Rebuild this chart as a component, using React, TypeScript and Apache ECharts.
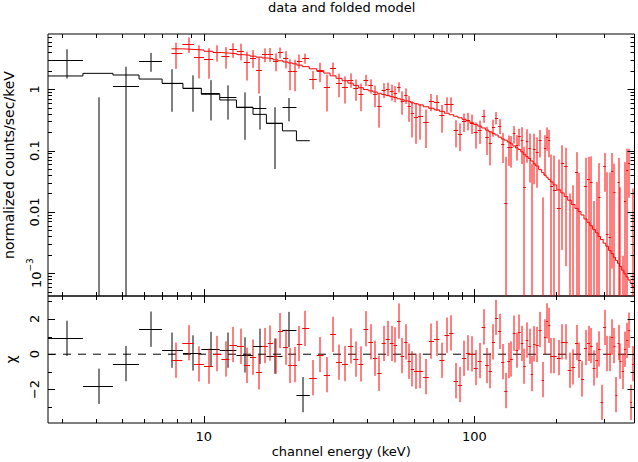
import React, { useEffect, useRef } from 'react';
import * as echarts from 'echarts';

const FONT = 'DejaVu Sans';

// axis ranges (keV, counts/sec/keV, chi)
const XMIN = 2.66, XMAX = 390;
const YMIN = 4.25e-4, YMAX = 7.98;
const RMIN = -3.9, RMAX = 3.3;

// black spectrum (low-energy instrument)
const blackEdges = [2.6, 3.58, 4.62, 5.77, 7.02, 8.38, 9.8, 11.46, 13.21, 15.21, 17.04, 19.53, 22.0, 24.64];
const blackCenter = [3.13, 4.1, 5.16, 6.41, 7.66, 9.13, 10.68, 12.3, 14.17, 16.1, 18.3, 20.66, 23.27];
const blackFlux = [3.0, -0.53, 1.13, 2.93, 1.28, 1.06, 0.86, 0.74, 0.52, 0.5, 0.28, 0.51, -0.15];
const blackErr = [1.5, 1.27, 1.2, 1.0, 0.85, 0.63, 0.55, 0.42, 0.37, 0.28, 0.23, 0.21, 0.13];
const blackModel = [1.65, 1.82, 1.71, 1.47, 1.25, 1.04, 0.83, 0.67, 0.51, 0.39, 0.28, 0.21, 0.145];
const blackChi = [0.9, -1.82, -0.53, 1.42, 0.23, 0.07, 0.27, 0.23, -0.04, 0.45, -0.11, 1.4, -2.29];

// red spectrum (high-energy instrument)
const redFirstLow = 7.6;
const redLastHigh = 390;
const redCenter = [
  7.88, 8.82, 9.61, 10.46, 11.2, 12.06, 12.83, 13.7, 14.45, 15.21,
  16.01, 16.84, 17.64, 18.45, 19.2, 20.09, 20.91, 21.69, 22.5, 23.75,
  25.33, 26.98, 28.54, 30.04, 31.61, 33.27, 34.91, 36.43, 38.11, 39.67,
  41.39, 42.93, 44.57, 46.23, 47.83, 49.49, 51.08, 52.53, 54.2, 55.89,
  57.33, 59.02, 60.7, 63.17, 66.25, 69.36, 72.56, 75.91, 79.02, 82.22,
  85.29, 88.47, 91.54, 94.71, 97.72, 101.1, 104.6, 108.0, 111.3, 114.6,
  117.5, 120.6, 124.0, 127.2, 130.5, 133.9, 137.0, 140.1, 143.3, 146.6,
  149.9, 153.0, 156.4, 159.7, 162.8, 166.6, 169.9, 175.3, 178.8, 182.3,
  185.5, 188.6, 192.5, 197.5, 205.4, 211.4, 217.5, 224.4, 231.4, 238.8,
  244.3, 250.6, 257.1, 263.8, 269.6, 276.6, 283.0, 289.1, 295.3, 302.2,
  308.9, 316.9, 322.3, 329.0, 334.6, 340.4, 346.2, 353.0, 360.0, 366.2,
  372.5, 378.9, 385.4,
];
const redModel = [
  4.57, 4.47, 4.37, 4.17, 3.98, 3.89, 3.8, 3.67, 3.59, 3.47,
  3.35, 3.24, 3.16, 3.02, 2.92, 2.79, 2.69, 2.6, 2.48, 2.34,
  2.16, 2.02, 1.84, 1.66, 1.51, 1.38, 1.26, 1.16, 1.06, 0.989,
  0.944, 0.902, 0.861, 0.822, 0.794, 0.759, 0.733, 0.7, 0.676, 0.646,
  0.631, 0.603, 0.582, 0.556, 0.519, 0.49, 0.462, 0.437, 0.407, 0.385,
  0.363, 0.343, 0.324, 0.305, 0.285, 0.266, 0.251, 0.234, 0.216, 0.202,
  0.191, 0.18, 0.166, 0.155, 0.148, 0.138, 0.129, 0.119, 0.111, 0.104,
  0.0955, 0.0871, 0.0794, 0.0741, 0.0676, 0.061, 0.0562, 0.049, 0.0437, 0.0398,
  0.0367, 0.0339, 0.0309, 0.0275, 0.0229, 0.0204, 0.0178, 0.0155, 0.0132, 0.0114,
  0.0101, 0.00891, 0.00767, 0.00676, 0.00596, 0.00519, 0.00457, 0.00398, 0.00355, 0.00309,
  0.00275, 0.00234, 0.00209, 0.00182, 0.00162, 0.00145, 0.00129, 0.00112, 0.000977, 0.000871,
  0.000776, 0.000692, 0.000603,
];
const redChi = [
  -0.34, 0.65, -0.55, -0.68, 0.04, -0.27, 0.55, 0.45, -0.63, -0.17,
  -1.0, 0.49, 0.63, -0.11, 1.34, 0.4, -0.64, -0.59, 0.6, 1.46,
  -1.33, -0.02, -1.16, 1.12, -0.45, -0.53, 0.47, -0.28, -0.55, 1.44,
  0.7, -0.23, -1.08, 0.61, 0.89, 0.61, 0.53, 1.88, -0.08, 0.7,
  -0.4, -0.83, -0.97, -0.93, -1.27, 0.74, 0.89, -0.34, 1.08, 1.21,
  -1.5, -1.72, -0.23, 0.08, 0.02, -0.76, -0.36, 1.55, -0.64, -0.93,
  0.7, 2.08, 1.29, -0.42, -2.06, -0.36, -0.27, 1.19, 0.23, 1.25,
  0.61, -0.68, 0.8, 0.45, -1.1, 0.59, 0.55, 1.4, -1.44, 0.98,
  1.89, 1.63, -0.08, -0.08, -0.19, 0.7, 0.7, -0.91, -0.72, 0.66,
  -0.34, -1.4, 0.38, 0.61, 0.49, -0.78, -0.34, 0.3, -2.73, 1.52,
  0.04, 0.04, 0.98, 0.49, -2.29, 0.66, -0.4, -0.98, 0.28, 0.78,
  1.36, -2.73, -0.53,
];
const redErr = [
  1.8, 1.55, 1.85, 1.6, 1.2, 1.35, 1.2, 1.3, 1.35, 1.05,
  1.25, 0.95, 0.95, 0.95, 0.8, 1.0, 1.05, 1.05, 0.75, 0.6,
  0.5, 0.7, 0.65, 0.5, 0.53, 0.52, 0.38, 0.4, 0.4, 0.3,
  0.3, 0.32, 0.3, 0.27, 0.26, 0.27, 0.26, 0.21, 0.27, 0.23,
  0.24, 0.24, 0.23, 0.21, 0.18, 0.2, 0.18, 0.18, 0.16, 0.16,
  0.1, 0.09, 0.1, 0.1, 0.1, 0.09, 0.09, 0.09, 0.08, 0.075,
  0.075, 0.08, 0.07, 0.065, 0.065, 0.06, 0.06, 0.06, 0.055, 0.055,
  0.09, 0.09, 0.08, 0.08, 0.07, 0.08, 0.07, 0.07, 0.06, 0.07,
  0.07, 0.07, 0.06, 0.06, 0.06, 0.06, 0.055, 0.05, 0.05, 0.05,
  0.05, 0.045, 0.05, 0.045, 0.05, 0.045, 0.04, 0.045, 0.035, 0.035,
  0.04, 0.04, 0.045, 0.04, 0.035, 0.045, 0.04, 0.04, 0.05, 0.06,
  0.045, 0.04, 0.05,
];

// ticks and tick labels
const xMajorTicks = [10, 100];
const xMinorTicks = [3, 4, 5, 6, 7, 8, 9, 20, 30, 40, 50, 60, 70, 80, 90, 200, 300];
const yTopMajorTicks = [0.001, 0.01, 0.1, 1];
const yTopTickLabels = ['{a|10}{b|\u22123}', '0.01', '0.1', '1'];
const yTopMinorTicks = [
  5e-4, 6e-4, 7e-4, 8e-4, 9e-4,
  0.002, 0.003, 0.004, 0.005, 0.006, 0.007, 0.008, 0.009,
  0.02, 0.03, 0.04, 0.05, 0.06, 0.07, 0.08, 0.09,
  0.2, 0.3, 0.4, 0.5, 0.6, 0.7, 0.8, 0.9,
  2, 3, 4, 5, 6, 7,
];
const yResMajorTicks = [-2, 0, 2];
const yResTickLabels = ['\u22122', '0', '2'];
const yResMinorTicks = [-3, -1, 1, 3];

const lg = Math.log10;
const clampLog = (v: number) => (v <= YMIN ? YMIN : v >= YMAX ? YMAX : v);
const clampRes = (v: number) => (v <= RMIN ? RMIN : v >= RMAX ? RMAX : v);
const clampX = (v: number) => (v <= XMIN ? XMIN : v >= XMAX ? XMAX : v);

// red bin edges from the bin centres
const redLo = redCenter.map((c, i) => (i === 0 ? redFirstLow : Math.sqrt(redCenter[i - 1] * c)));
const redHi = redCenter.map((c, i) => (i === redCenter.length - 1 ? redLastHigh : Math.sqrt(redCenter[i + 1] * c)));
const redFlux = redCenter.map((_, i) => redModel[i] + redChi[i] * redErr[i]);

const blackLo = blackCenter.map((_, i) => blackEdges[i]);
const blackHi = blackCenter.map((_, i) => blackEdges[i + 1]);

// axes run in log10 space for energy and flux
function topCross(xc: number[], lo: number[], hi: number[], flux: number[], err: number[]) {
  return xc.map((x, i) => {
    const f = flux[i];
    return [
      lg(x), lg(clampLog(f)), lg(clampX(lo[i])), lg(clampX(hi[i])),
      lg(clampLog(f - err[i])), lg(clampLog(f + err[i])),
      f > YMIN && f < YMAX ? 1 : 0,
      f + err[i] > YMIN ? 1 : 0,
    ];
  });
}
function resCross(xc: number[], lo: number[], hi: number[], chi: number[]) {
  return xc.map((x, i) => [
    lg(x), clampRes(chi[i]), lg(clampX(lo[i])), lg(clampX(hi[i])),
    clampRes(chi[i] - 1), clampRes(chi[i] + 1),
    chi[i] > RMIN && chi[i] < RMAX ? 1 : 0, 1,
  ]);
}
function stepData(lo: number[], hi: number[], model: number[]) {
  const d = lo.map((l, i) => [lg(clampX(l)), lg(model[i])]);
  d.push([lg(clampX(hi[hi.length - 1])), lg(model[model.length - 1])]);
  return d;
}

function crossRenderer(color: string) {
  return (params: any, api: any) => {
    const xc = api.value(0), y = api.value(1);
    const c = api.coord([xc, y]);
    const l = api.coord([api.value(2), y]);
    const r = api.coord([api.value(3), y]);
    const lo = api.coord([xc, api.value(4)]);
    const hi = api.coord([xc, api.value(5)]);
    const children: any[] = [];
    if (api.value(7)) {
      const x = Math.round(c[0]);
      children.push({ type: 'line', shape: { x1: x, y1: hi[1], x2: x, y2: lo[1] }, style: { stroke: color, lineWidth: 1 } });
    }
    if (api.value(6)) {
      const yy = Math.round(c[1]) + 0.5;
      children.push({ type: 'line', shape: { x1: l[0], y1: yy, x2: r[0], y2: yy }, style: { stroke: color, lineWidth: 1 } });
    }
    return { type: 'group', children };
  };
}

function tickRenderer(params: any, api: any) {
  const cs = params.coordSys;
  const kind = api.value(2);
  const len = api.value(3) ? 7 : 4;
  const p = api.coord([api.value(0), api.value(1)]);
  const st = () => ({ stroke: '#000', lineWidth: 1 });
  if (kind === 0) {
    const x = Math.round(p[0]) + 0.5;
    return {
      type: 'group',
      children: [
        { type: 'line', shape: { x1: x, y1: cs.y, x2: x, y2: cs.y + len }, style: st() },
        { type: 'line', shape: { x1: x, y1: cs.y + cs.height, x2: x, y2: cs.y + cs.height - len }, style: st() },
      ],
    };
  }
  const y = Math.round(p[1]) + 0.5;
  return {
    type: 'group',
    children: [
      { type: 'line', shape: { x1: cs.x, y1: y, x2: cs.x + len, y2: y }, style: st() },
      { type: 'line', shape: { x1: cs.x + cs.width, y1: y, x2: cs.x + cs.width - len, y2: y }, style: st() },
    ],
  };
}

function yLabelRenderer(labels: string[]) {
  return (params: any, api: any) => {
    const cs = params.coordSys;
    const p = api.coord([api.value(0), api.value(1)]);
    return {
      type: 'text',
      x: cs.x - 14,
      y: p[1],
      rotation: Math.PI / 2,
      style: {
        text: labels[api.value(2)],
        fill: '#000',
        fontFamily: FONT,
        fontSize: 13,
        align: 'center',
        verticalAlign: 'middle',
        rich: {
          a: { fontFamily: FONT, fontSize: 13, fill: '#000', lineHeight: 18, verticalAlign: 'bottom' },
          b: { fontFamily: FONT, fontSize: 9, fill: '#000', lineHeight: 9, verticalAlign: 'top' },
        },
      },
    };
  };
}

const hidden = {
  axisLine: { show: false },
  axisTick: { show: false },
  splitLine: { show: false },
  minorTick: { show: false },
  minorSplitLine: { show: false },
};
const labelStyle = { fontFamily: FONT, fontSize: 13, color: '#000' };
const LX0 = lg(XMIN), LX1 = lg(XMAX);
const gridCommon = {
  left: 48, width: 586.5, show: true, borderColor: '#000', borderWidth: 1,
  backgroundColor: 'transparent', containLabel: false, outerBoundsMode: 'none',
};

const option: any = {
  animation: false,
  title: {
    text: 'data and folded model', left: 268, top: 1, padding: 0,
    textStyle: { fontFamily: FONT, fontSize: 13, fontWeight: 'normal', color: '#000' },
  },
  grid: [
    { ...gridCommon, top: 34, height: 262 },
    { ...gridCommon, top: 296, height: 127 },
  ],
  xAxis: [
    { type: 'value', gridIndex: 0, min: LX0, max: LX1, position: 'top', axisLabel: { show: false }, ...hidden },
    {
      type: 'value', gridIndex: 1, min: LX0, max: LX1,
      axisLabel: {
        ...labelStyle, margin: 7, showMinLabel: false, showMaxLabel: false,
        formatter: (v: number) => {
          const r = Math.round(v);
          return Math.abs(v - r) < 1e-6 && r >= 1 ? String(Math.round(Math.pow(10, r))) : '';
        },
      },
      name: 'channel energy (keV)', nameLocation: 'middle', nameGap: 22,
      nameTextStyle: { ...labelStyle },
      ...hidden,
    },
  ],
  yAxis: [
    {
      type: 'value', gridIndex: 0, min: lg(YMIN), max: lg(YMAX),
      axisLabel: { show: false },
      name: 'normalized counts/sec/keV', nameLocation: 'middle', nameGap: 32,
      nameTextStyle: { ...labelStyle, fontSize: 14 },
      ...hidden,
    },
    {
      type: 'value', gridIndex: 1, min: RMIN, max: RMAX,
      axisLabel: { show: false },
      name: '\u03c7', nameLocation: 'middle', nameGap: 30,
      nameTextStyle: { ...labelStyle, fontSize: 14 },
      ...hidden,
    },
  ],
  series: [
    {
      type: 'line', xAxisIndex: 0, yAxisIndex: 0, step: 'end', symbol: 'none', silent: true,
      lineStyle: { color: '#000', width: 1 }, data: stepData(blackLo, blackHi, blackModel), z: 2,
    },
    {
      type: 'custom', xAxisIndex: 0, yAxisIndex: 0, silent: true, z: 3,
      renderItem: crossRenderer('#000'), data: topCross(blackCenter, blackLo, blackHi, blackFlux, blackErr),
    },
    {
      type: 'line', xAxisIndex: 0, yAxisIndex: 0, step: 'end', symbol: 'none', silent: true,
      lineStyle: { color: '#ff0000', width: 1 }, data: stepData(redLo, redHi, redModel), z: 2,
    },
    {
      type: 'custom', xAxisIndex: 0, yAxisIndex: 0, silent: true, z: 3,
      renderItem: crossRenderer('#ff0000'), data: topCross(redCenter, redLo, redHi, redFlux, redErr),
    },
    {
      type: 'line', xAxisIndex: 1, yAxisIndex: 1, symbol: 'none', silent: true,
      lineStyle: { color: '#000', width: 1, type: [8, 7] }, data: [[LX0, 0], [LX1, 0]], z: 2,
    },
    {
      type: 'custom', xAxisIndex: 1, yAxisIndex: 1, silent: true, z: 3,
      renderItem: crossRenderer('#000'), data: resCross(blackCenter, blackLo, blackHi, blackChi),
    },
    {
      type: 'custom', xAxisIndex: 1, yAxisIndex: 1, silent: true, z: 3,
      renderItem: crossRenderer('#ff0000'), data: resCross(redCenter, redLo, redHi, redChi),
    },
    {
      type: 'custom', xAxisIndex: 0, yAxisIndex: 0, silent: true, z: 5,
      renderItem: tickRenderer,
      data: [
        ...xMajorTicks.map((v) => [lg(v), 0, 0, 1]),
        ...xMinorTicks.map((v) => [lg(v), 0, 0, 0]),
        ...yTopMajorTicks.map((v) => [1, lg(v), 1, 1]),
        ...yTopMinorTicks.map((v) => [1, lg(v), 1, 0]),
      ],
    },
    {
      type: 'custom', xAxisIndex: 1, yAxisIndex: 1, silent: true, z: 5,
      renderItem: tickRenderer,
      data: [
        ...xMajorTicks.map((v) => [lg(v), 0, 0, 1]),
        ...xMinorTicks.map((v) => [lg(v), 0, 0, 0]),
        ...yResMajorTicks.map((v) => [1, v, 1, 1]),
        ...yResMinorTicks.map((v) => [1, v, 1, 0]),
      ],
    },
    {
      type: 'custom', xAxisIndex: 0, yAxisIndex: 0, silent: true, z: 5,
      renderItem: yLabelRenderer(yTopTickLabels),
      data: yTopMajorTicks.map((v, i) => [1, lg(v), i]),
    },
    {
      type: 'custom', xAxisIndex: 1, yAxisIndex: 1, silent: true, z: 5,
      renderItem: yLabelRenderer(yResTickLabels),
      data: yResMajorTicks.map((v, i) => [1, v, i]),
    },
  ],
};

export default function App() {
  const ref = useRef<HTMLDivElement>(null);
  useEffect(() => {
    const chart = echarts.init(ref.current as HTMLDivElement, null, { renderer: 'svg' });
    chart.setOption(option);
    return () => chart.dispose();
  }, []);
  return <div ref={ref} style={{ position: 'absolute', left: 0, top: 0, width: 638, height: 462, background: '#fff' }} />;
}
